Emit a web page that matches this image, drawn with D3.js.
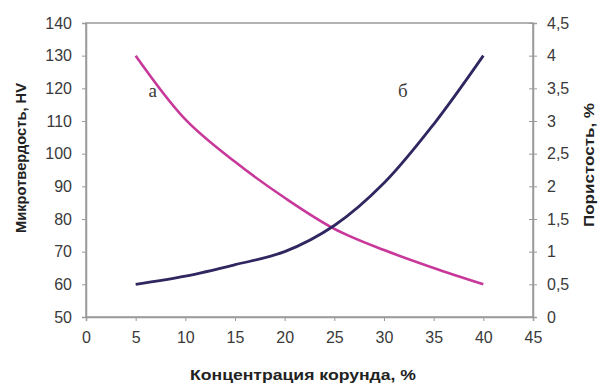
<!DOCTYPE html>
<html lang="ru">
<head>
<meta charset="UTF-8">
<title>Микротвердость и пористость</title>
<script src="https://d3js.org/d3.v7.min.js"></script>
<style>
  body { margin: 0; background: #fff; }
  svg text { font-family: "Liberation Sans", Arial, sans-serif; }
</style>
</head>
<body>
<div id="chart"></div>
<script>
  // data
  const concentration = [5, 10, 15, 20, 25, 30, 35, 40];
  const curveA = [130, 110.5, 97.5, 86.5, 77, 70.5, 65, 60];   // а (pink, falling)
  const curveB = [60, 62.5, 66, 70, 78, 91, 109, 130];         // б (dark, rising)
  const xTicks = [0, 5, 10, 15, 20, 25, 30, 35, 40, 45];
  const leftTicks = [50, 60, 70, 80, 90, 100, 110, 120, 130, 140];
  const rightTicks = [0, 0.5, 1, 1.5, 2, 2.5, 3, 3.5, 4, 4.5];

  const width = 599, height = 386;
  const margin = { left: 86, right: 66, top: 23, bottom: 69 };
  const x0 = margin.left, x1 = width - margin.right;
  const y0 = height - margin.bottom, y1 = margin.top;

  const svg = d3.select("#chart").append("svg")
      .attr("width", width)
      .attr("height", height);

  const x = d3.scaleLinear().domain([0, 45]).range([x0, x1]);
  const yLeft = d3.scaleLinear().domain([50, 140]).range([y0, y1]);
  const yRight = d3.scaleLinear().domain([0, 4.5]).range([y0, y1]);

  const axisColor = "#9a9a9a";
  const textColor = "#3a3a3a";

  // plot frame
  svg.append("rect")
      .attr("x", x0).attr("y", y1)
      .attr("width", x1 - x0).attr("height", y0 - y1)
      .attr("fill", "none")
      .attr("stroke", axisColor)
      .attr("stroke-width", 1.5);

  const fmtComma = d => String(d).replace(".", ",");

  // bottom axis
  const gx = svg.append("g")
      .attr("transform", `translate(0,${y0})`)
      .call(d3.axisBottom(x).tickValues(xTicks).tickSize(4).tickPadding(11));
  // left axis
  const gl = svg.append("g")
      .attr("transform", `translate(${x0},0)`)
      .call(d3.axisLeft(yLeft).tickValues(leftTicks).tickSize(4).tickPadding(10));
  // right axis, ticks crossing the line
  const gr = svg.append("g")
      .attr("transform", `translate(${x1},0)`)
      .call(d3.axisRight(yRight).tickValues(rightTicks).tickFormat(fmtComma).tickSize(4).tickPadding(10));
  gr.selectAll(".tick line").attr("x1", -4);

  [gx, gl, gr].forEach(g => {
    g.select(".domain").attr("stroke", axisColor).attr("stroke-width", 1.5);
    g.selectAll(".tick line").attr("stroke", axisColor).attr("stroke-width", 1);
    g.selectAll(".tick text")
        .attr("fill", textColor)
        .style("font-size", "16px");
  });

  // curves
  const line = yScale => d3.line()
      .x((d, i) => x(concentration[i]))
      .y(d => yScale(d))
      .curve(d3.curveCatmullRom.alpha(0.5));

  svg.append("path")
      .datum(curveA)
      .attr("fill", "none")
      .attr("stroke", "#c8389a")
      .attr("stroke-width", 2.6)
      .attr("d", line(yLeft));

  svg.append("path")
      .datum(curveB)
      .attr("fill", "none")
      .attr("stroke", "#2e2760")
      .attr("stroke-width", 2.8)
      .attr("d", line(yLeft));

  // curve labels
  const serif = "'Liberation Serif', 'Times New Roman', serif";
  svg.append("text")
      .attr("x", x(6.3)).attr("y", yLeft(117.5))
      .style("font-family", serif)
      .style("font-size", "19px")
      .attr("fill", textColor)
      .text("а");
  svg.append("text")
      .attr("x", x(31.4)).attr("y", yLeft(117.5))
      .style("font-family", serif)
      .style("font-size", "19px")
      .attr("fill", textColor)
      .text("б");

  // axis titles
  svg.append("text")
      .attr("x", 303).attr("y", 380)
      .attr("text-anchor", "middle")
      .attr("fill", "#222")
      .attr("textLength", 226)
      .attr("lengthAdjust", "spacingAndGlyphs")
      .style("font-size", "15px")
      .style("font-weight", "bold")
      .text("Концентрация корунда, %");

  svg.append("text")
      .attr("transform", "translate(26,158) rotate(-90)")
      .attr("text-anchor", "middle")
      .attr("fill", "#222")
      .attr("textLength", 150)
      .attr("lengthAdjust", "spacingAndGlyphs")
      .style("font-size", "15px")
      .style("font-weight", "bold")
      .text("Микротвердость, HV");

  svg.append("text")
      .attr("transform", "translate(594,165) rotate(-90)")
      .attr("text-anchor", "middle")
      .attr("fill", "#222")
      .attr("textLength", 124)
      .attr("lengthAdjust", "spacingAndGlyphs")
      .style("font-size", "15px")
      .style("font-weight", "bold")
      .text("Пористость, %");
</script>
</body>
</html>
